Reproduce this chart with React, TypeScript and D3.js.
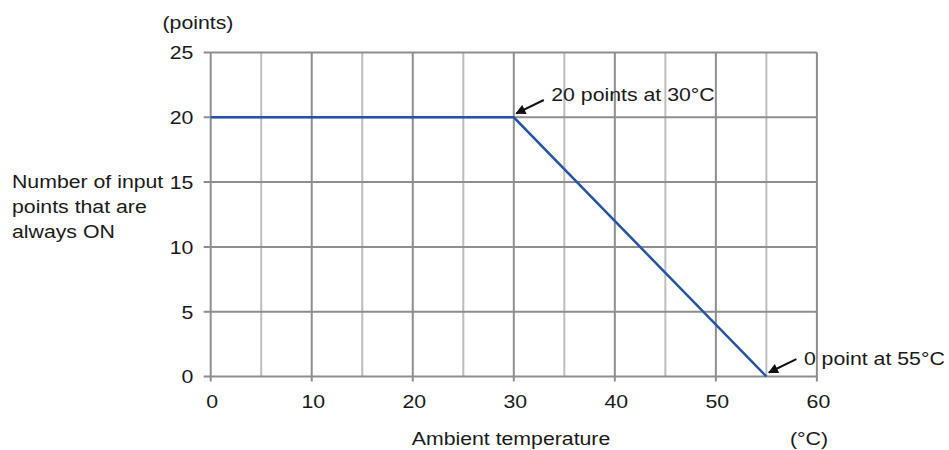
import React from "react";
import * as d3 from "d3";

const xTicks = [0, 10, 20, 30, 40, 50, 60];
const xMinor = [5, 15, 25, 35, 45, 55];
const yTicks = [0, 5, 10, 15, 20, 25];
const temps = [0, 30, 55];
const points = [20, 20, 0];
const yLabelLines = ["Number of input", "points that are", "always ON"];
const annotations = [
  { x: 30, y: 20, text: "20 points at 30°C" },
  { x: 55, y: 0, text: "0 point at 55°C" },
];

const FS = 18.5;
const SX = 1.15;

function T(props: { x: number; y: number; anchor?: string; children: React.ReactNode }) {
  return (
    <text
      transform={`translate(${props.x},${props.y}) scale(${SX},1)`}
      textAnchor={props.anchor || "start"}
      fontSize={FS}
      fill="#1a1a1a"
    >
      {props.children}
    </text>
  );
}

export default function App() {
  const W = 949, H = 450;
  const x = d3.scaleLinear().domain([0, 60]).range([210.7, 816.9]);
  const y = d3.scaleLinear().domain([0, 25]).range([376.5, 52.5]);
  const line = d3.line<number>().x((_, i) => x(temps[i])).y((d) => y(d));
  const font = "'Liberation Sans', Arial, Helvetica, sans-serif";
  const dark = "#8e8e8e";
  const light = "#bdbdbd";
  const textDy = [-16.8, -11.5];
  return (
    <svg width={W} height={H} style={{ position: "absolute", left: 0, top: 0 }} fontFamily={font}>
      <defs>
        <marker id="ah" viewBox="0 0 10 10" refX="9" refY="5" markerWidth="11" markerHeight="10" markerUnits="userSpaceOnUse" orient="auto">
          <path d="M0,0 L10,5 L0,10 z" fill="#111" />
        </marker>
      </defs>
      {xMinor.map((v) => (
        <line key={"m" + v} x1={x(v)} x2={x(v)} y1={y(25)} y2={y(0)} stroke={light} strokeWidth={2} />
      ))}
      {yTicks.map((v) => (
        <line key={"h" + v} x1={x(0) - 7} x2={x(60)} y1={y(v)} y2={y(v)} stroke={dark} strokeWidth={2} />
      ))}
      {xTicks.map((v) => (
        <line key={"v" + v} x1={x(v)} x2={x(v)} y1={y(25)} y2={y(0) + 5} stroke={dark} strokeWidth={2} />
      ))}
      <path d={line(points) || ""} fill="none" stroke="#2454a6" strokeWidth={2.5} />
      {yTicks.map((v) => (
        <T key={"yt" + v} x={193.3} y={y(v) + 6.8} anchor="end">{v}</T>
      ))}
      {xTicks.map((v) => (
        <T key={"xt" + v} x={x(v) + 1.5} y={408.3} anchor="middle">{v}</T>
      ))}
      <T x={162.5} y={29.4}>(points)</T>
      {yLabelLines.map((t, i) => (
        <T key={t} x={12} y={188.3 + i * 24.8}>{t}</T>
      ))}
      <T x={511} y={444.5} anchor="middle">Ambient temperature</T>
      <T x={809} y={444.5} anchor="middle">(°C)</T>
      {annotations.map((a, i) => {
        const px = x(a.x), py = y(a.y);
        const hx = px + 2.5, hy = py - 4;
        const tx = px + 30, ty = py - 17.3;
        return (
          <g key={a.text}>
            <line x1={tx} y1={ty} x2={hx} y2={hy} stroke="#111" strokeWidth={2} markerEnd="url(#ah)" />
            <T x={px + 37.5} y={py + textDy[i]}>{a.text}</T>
          </g>
        );
      })}
    </svg>
  );
}
